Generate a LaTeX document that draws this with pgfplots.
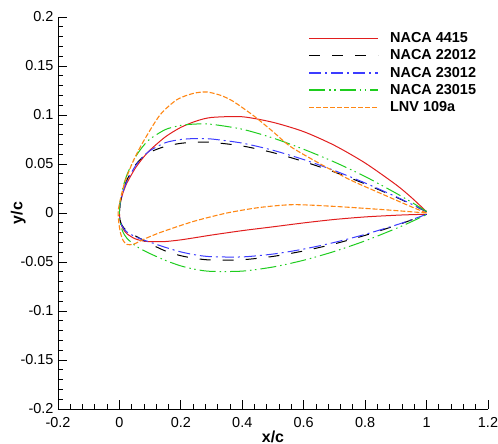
\documentclass[border=0pt]{standalone}
\usepackage{pgfplots}
\pgfplotsset{compat=1.18}
\usepackage{fontspec}
\setmainfont{Liberation Sans}
\definecolor{cred}{RGB}{225,30,30}
\definecolor{cblue}{RGB}{60,60,255}
\definecolor{cgreen}{RGB}{30,205,30}
\definecolor{corange}{RGB}{255,135,20}
\begin{document}
\begin{tikzpicture}
\begin{axis}[
  scale only axis,
  width=430bp, height=392bp,
  xmin=-0.2, xmax=1.2, ymin=-0.2, ymax=0.2,
  axis x line=bottom, axis y line=left,
  axis line style={-, line width=0.9bp},
  xtick={-0.2,0,0.2,0.4,0.6,0.8,1,1.2},
  xticklabels={-0.2,0,0.2,0.4,0.6,0.8,1,1.2},
  ytick={-0.2,-0.15,-0.1,-0.05,0,0.05,0.1,0.15,0.2},
  yticklabels={-0.2,-0.15,-0.1,-0.05,0,0.05,0.1,0.15,0.2},
  minor x tick num=4, minor y tick num=4,
  tick align=inside,
  major tick length=9bp, minor tick length=5bp,
  tick style={line width=0.8bp, black},
  ticklabel style={font=\fontsize{14.5}{16}\selectfont},
  xticklabel style={yshift=-5bp},
  yticklabel style={xshift=-1bp},
  xlabel={\textbf{x/c}}, ylabel={\textbf{y/c}},
  label style={font=\fontsize{16}{18}\selectfont},
  xlabel style={yshift=4bp},
  ylabel style={yshift=-12bp},
  legend style={draw=none, fill=none, at={(axis description cs:0.582,0.965)}, anchor=north west,
    font=\fontsize{14.5}{16}\selectfont\bfseries, row sep=2bp, inner sep=0pt,
    nodes={inner ysep=1.8bp}},
  legend cell align=left,
  legend image code/.code={\draw[#1, line width=1.3bp] (0bp,0bp) -- (69bp,0bp); \path[draw=none,fill=none] (79bp,0bp);},
  every axis plot/.append style={line width=1bp, smooth, tension=0.45},
]
\coordinate (O) at (rel axis cs:0,0);
\addplot[cred] coordinates {(1.0,0.0013)(0.95,0.016)(0.9,0.029)(0.8,0.051)(0.7,0.069)(0.6,0.083)(0.5,0.0925)(0.4,0.0982)(0.3,0.0975)(0.25,0.0938)(0.2,0.0874)(0.15,0.0778)(0.1,0.0643)(0.075,0.0556)(0.05,0.0449)(0.025,0.0310)(0.0125,0.0214)(0.005,0.0132)(0.002,0.0082)(0,0)(0.002,-0.0074)(0.005,-0.0112)(0.0125,-0.0165)(0.025,-0.0213)(0.05,-0.0262)(0.075,-0.0284)(0.1,-0.0293)(0.15,-0.0291)(0.2,-0.0274)(0.25,-0.0250)(0.3,-0.0225)(0.4,-0.0180)(0.5,-0.0141)(0.6,-0.0101)(0.7,-0.0066)(0.8,-0.0040)(0.9,-0.0023)(0.95,-0.0017)(1.0,-0.0013)};
\addlegendentry{NACA 4415}
\addplot[black, dash pattern=on 11bp off 12bp] coordinates {(1.0,0.0013)(0.95,0.0089)(0.9,0.0162)(0.8,0.0297)(0.7,0.0418)(0.6,0.0525)(0.5,0.0616)(0.4,0.0684)(0.3,0.0721)(0.25,0.0723)(0.2,0.0711)(0.15,0.0681)(0.1,0.0622)(0.075,0.0568)(0.05,0.0481)(0.025,0.0341)(0.0125,0.0234)(0.005,0.0141)(0.002,0.0086)(0,0)(0.002,-0.0070)(0.005,-0.0103)(0.0125,-0.0145)(0.025,-0.0182)(0.05,-0.0230)(0.075,-0.0272)(0.1,-0.0315)(0.15,-0.0388)(0.2,-0.0436)(0.25,-0.0465)(0.3,-0.0480)(0.4,-0.0477)(0.5,-0.0443)(0.6,-0.0387)(0.7,-0.0315)(0.8,-0.0228)(0.9,-0.0128)(0.95,-0.0072)(1.0,-0.0013)};
\addlegendentry{NACA 22012}
\addplot[cblue, dash pattern=on 12bp off 4bp on 2bp off 4bp] coordinates {(1.0,0.0013)(0.95,0.0092)(0.9,0.0167)(0.8,0.0306)(0.7,0.0433)(0.6,0.0545)(0.5,0.0640)(0.4,0.0713)(0.3,0.0755)(0.25,0.0760)(0.2,0.0750)(0.15,0.0718)(0.1,0.0638)(0.075,0.0569)(0.05,0.0471)(0.025,0.0328)(0.0125,0.0225)(0.005,0.0137)(0.002,0.0084)(0,0)(0.002,-0.0072)(0.005,-0.0107)(0.0125,-0.0154)(0.025,-0.0195)(0.05,-0.0240)(0.075,-0.0271)(0.1,-0.0298)(0.15,-0.0351)(0.2,-0.0397)(0.25,-0.0429)(0.3,-0.0446)(0.4,-0.0448)(0.5,-0.0419)(0.6,-0.0368)(0.7,-0.0300)(0.8,-0.0218)(0.9,-0.0123)(0.95,-0.0070)(1.0,-0.0013)};
\addlegendentry{NACA 23012}
\addplot[cgreen, dash pattern=on 16bp off 4bp on 1.5bp off 3.5bp on 1.5bp off 4bp] coordinates {(1.0,0.0016)(0.95,0.0112)(0.9,0.0203)(0.8,0.0372)(0.7,0.0520)(0.6,0.0650)(0.5,0.0765)(0.4,0.0855)(0.3,0.0905)(0.25,0.0908)(0.2,0.0894)(0.15,0.0852)(0.1,0.0756)(0.075,0.0674)(0.05,0.0560)(0.025,0.0394)(0.0125,0.0273)(0.005,0.0167)(0.002,0.0104)(0,0)(0.002,-0.0092)(0.005,-0.0137)(0.0125,-0.0201)(0.025,-0.0260)(0.05,-0.0329)(0.075,-0.0376)(0.1,-0.0415)(0.15,-0.0484)(0.2,-0.0540)(0.25,-0.0577)(0.3,-0.0596)(0.4,-0.0593)(0.5,-0.0551)(0.6,-0.0482)(0.7,-0.0392)(0.8,-0.0284)(0.9,-0.0159)(0.95,-0.0090)(1.0,-0.0016)};
\addlegendentry{NACA 23015}
\addplot[draw=corange, line width=1.1bp, dash pattern=on 5bp off 2bp,
  legend image code/.code={\draw[draw=corange, line width=1.4bp, dash pattern=on 5bp off 2bp] (0bp,0bp) -- (69bp,0bp); \path[draw=none,fill=none] (79bp,0bp);}] coordinates {(1.0,0.0)(0.947,0.0068)(0.86,0.0187)(0.75,0.034)(0.643,0.052)(0.556,0.068)(0.5,0.083)(0.45,0.096)(0.425,0.102)(0.37,0.114)(0.33,0.120)(0.284,0.1235)(0.24,0.122)(0.187,0.1156)(0.132,0.100)(0.078,0.073)(0.045,0.053)(0.018,0.032)(0.004,0.015)(-0.004,0.002)(-0.002,-0.010)(0.004,-0.021)(0.012,-0.028)(0.024,-0.032)(0.045,-0.032)(0.078,-0.027)(0.132,-0.020)(0.241,-0.0086)(0.35,0.0)(0.458,0.0057)(0.566,0.0085)(0.697,0.0068)(0.86,0.0034)(1.0,0.0)};
\addlegendentry{LNV 109a}
\end{axis}
\pgfresetboundingbox
\path[use as bounding box] (O) ++(-58bp,-35bp) rectangle ++(498bp,444bp);
\end{tikzpicture}
\end{document}
